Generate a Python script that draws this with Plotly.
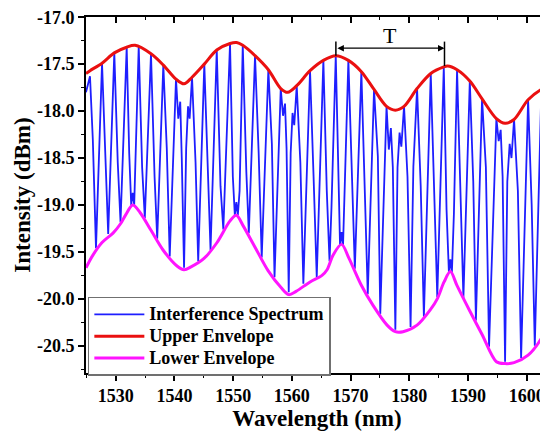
import plotly.graph_objects as go

# ---------------- data ----------------
spec_nm = [
    1524.94, 1525.62, 1526.10, 1526.64, 1527.67, 1528.25, 1528.72, 1529.76, 1530.35, 1530.82,
    1531.87, 1532.30, 1532.64, 1532.90, 1533.15, 1533.92, 1534.50, 1534.96, 1536.01, 1536.62,
    1537.07, 1538.11, 1538.70, 1539.20, 1540.27, 1540.66, 1540.99, 1541.25, 1541.64, 1542.00,
    1542.32, 1542.59, 1543.00, 1543.60, 1544.05, 1545.09, 1545.70, 1546.15, 1547.21, 1547.85,
    1548.33, 1549.47, 1549.95, 1550.29, 1550.55, 1550.80, 1551.10, 1551.64, 1552.25, 1552.67,
    1553.73, 1554.35, 1554.87, 1556.00, 1556.60, 1557.05, 1558.11, 1558.50, 1558.84, 1559.10,
    1559.47, 1559.80, 1560.12, 1560.41, 1560.83, 1561.45, 1561.96, 1563.10, 1563.70, 1564.24,
    1565.37, 1565.95, 1566.42, 1566.75, 1567.48, 1567.95, 1568.21, 1568.47, 1568.72, 1569.63,
    1570.35, 1570.73, 1571.84, 1572.35, 1572.93, 1574.00, 1574.65, 1575.06, 1576.13, 1576.52,
    1576.87, 1577.20, 1577.63, 1578.00, 1578.35, 1578.65, 1579.11, 1579.70, 1580.22, 1580.70,
    1581.33, 1581.95, 1582.49, 1583.66, 1584.30, 1584.77, 1585.88, 1586.35, 1586.75, 1587.00,
    1587.26, 1587.60, 1588.14, 1588.75, 1589.22, 1590.31, 1590.90, 1591.35, 1592.40, 1593.05,
    1593.59, 1594.84, 1595.23, 1595.57, 1595.90, 1596.32, 1596.70, 1597.10, 1597.41, 1597.85,
    1598.50, 1599.05, 1600.24, 1600.85, 1601.38, 1602.50, 1603.05, 1603.56,
]
spec_dbm = [
    -17.80, -17.63, -18.30, -19.46, -17.49, -18.60, -19.31, -17.38, -18.55, -19.18,
    -17.32, -18.45, -19.00, -18.87, -19.00, -17.31, -18.60, -19.14, -17.39, -18.70,
    -19.36, -17.51, -18.40, -19.55, -17.66, -18.08, -17.90, -18.50, -19.67, -18.40,
    -17.95, -18.08, -17.64, -18.55, -19.60, -17.50, -18.75, -19.48, -17.35, -18.80,
    -19.26, -17.28, -18.70, -19.11, -18.97, -19.11, -18.85, -17.30, -18.65, -19.30,
    -17.41, -18.45, -19.56, -17.56, -18.35, -19.77, -17.76, -18.05, -17.92, -18.40,
    -19.93, -18.45, -18.02, -18.15, -17.73, -18.55, -19.84, -17.57, -18.70, -19.77,
    -17.46, -18.85, -19.60, -19.03, -17.41, -18.90, -19.43, -19.29, -19.43, -17.46,
    -19.07, -19.68, -17.58, -18.64, -19.95, -17.77, -18.48, -20.16, -17.95, -18.41,
    -18.18, -18.60, -20.33, -18.60, -18.23, -18.38, -17.95, -18.70, -20.30, -18.59,
    -17.76, -18.80, -20.19, -17.60, -18.95, -19.98, -17.53, -19.05, -19.72, -19.58,
    -19.72, -19.10, -17.56, -18.95, -19.99, -17.68, -18.75, -20.23, -17.87, -18.60,
    -20.51, -18.08, -18.32, -18.20, -18.70, -20.67, -18.75, -18.35, -18.50, -18.09,
    -18.85, -20.63, -17.88, -19.00, -20.50, -17.77, -18.90, -20.25,
]

upper_nm = [
    1524.94, 1525.62, 1527.67, 1529.76, 1531.87, 1533.30, 1536.01, 1538.11, 1540.27, 1541.64,
    1543.00, 1545.09, 1547.21, 1549.47, 1550.60, 1551.64, 1553.73, 1556.00, 1558.11, 1559.30,
    1560.83, 1563.10, 1565.37, 1567.48, 1569.63, 1571.84, 1574.00, 1576.13, 1577.63, 1579.11,
    1581.33, 1583.66, 1585.88, 1586.50, 1588.14, 1590.31, 1592.40, 1594.84, 1596.32, 1597.85,
    1600.24, 1602.50, 1603.63,
]
upper_dbm = [
    -17.60, -17.57, -17.49, -17.38, -17.32, -17.30, -17.39, -17.51, -17.66, -17.71,
    -17.64, -17.50, -17.35, -17.28, -17.27, -17.30, -17.41, -17.56, -17.76, -17.80,
    -17.73, -17.57, -17.46, -17.41, -17.46, -17.58, -17.77, -17.95, -17.99, -17.95,
    -17.76, -17.60, -17.53, -17.52, -17.56, -17.68, -17.87, -18.08, -18.13, -18.09,
    -17.88, -17.77, -17.74,
]

lower_nm = [
    1524.94, 1525.96, 1527.67, 1529.54, 1530.82, 1531.75, 1532.90, 1534.14, 1536.01, 1538.06,
    1540.44, 1541.64, 1542.83, 1545.04, 1547.26, 1549.47, 1550.55, 1551.69, 1553.73, 1555.95,
    1558.16, 1559.47, 1560.72, 1563.10, 1565.14, 1566.00, 1567.06, 1568.47, 1569.74, 1571.79,
    1573.83, 1576.22, 1577.63, 1578.94, 1581.33, 1583.66, 1584.77, 1585.93, 1587.00, 1588.14,
    1590.31, 1592.40, 1594.84, 1596.32, 1597.85, 1600.24, 1602.50, 1603.63,
]
lower_dbm = [
    -19.67, -19.55, -19.40, -19.30, -19.20, -19.10, -19.00, -19.08, -19.27, -19.48,
    -19.65, -19.69, -19.66, -19.57, -19.40, -19.17, -19.11, -19.22, -19.45, -19.70,
    -19.88, -19.955, -19.92, -19.82, -19.75, -19.69, -19.53, -19.42, -19.57, -19.85,
    -20.07, -20.28, -20.35, -20.35, -20.28, -20.11, -20.00, -19.82, -19.71, -19.86,
    -20.13, -20.38, -20.67, -20.69, -20.68, -20.60, -20.42, -20.26,
]

series_names = ["Interference Spectrum", "Upper Envelope", "Lower Envelope"]

x_ticks = [1530, 1540, 1550, 1560, 1570, 1580, 1590, 1600]
x_tick_labels = ["1530", "1540", "1550", "1560", "1570", "1580", "1590", "1600"]
y_ticks = [-20.5, -20.0, -19.5, -19.0, -18.5, -18.0, -17.5, -17.0]
y_tick_labels = ["-20.5", "-20.0", "-19.5", "-19.0", "-18.5", "-18.0", "-17.5", "-17.0"]

x_range = [1524.94, 1603.63]
y_range = [-20.79, -16.998]

period_nm = [1567.5, 1586.0]          # envelope peaks marked by "T"
period_peak_dbm = [-17.41, -17.52]
period_arrow_dbm = -17.33
period_bar_top_dbm = -17.26
period_label = "T"
period_label_dbm = -17.19

# ---------------- figure ----------------
SERIF = "Liberation Serif, Times New Roman, serif"
BLACK = "#000000"


def legend_name(s):
    # legend rows are sized from legend.font (14.5px); the label itself is 18px
    return "<span style='font-size:18px'>" + s + "</span>"


fig = go.Figure()
fig.add_trace(go.Scatter(
    x=spec_nm, y=spec_dbm, mode="lines", name=legend_name(series_names[0]),
    line=dict(color="#1e1eff", width=1.8),
))
fig.add_trace(go.Scatter(
    x=upper_nm, y=upper_dbm, mode="lines", name=legend_name(series_names[1]),
    line=dict(color="#ea1010", width=3, shape="spline", smoothing=0.9),
))
fig.add_trace(go.Scatter(
    x=lower_nm, y=lower_dbm, mode="lines", name=legend_name(series_names[2]),
    line=dict(color="#ff14ff", width=3, shape="spline", smoothing=0.9),
))
# invisible trace so that the top (inward-tick) axis is drawn
fig.add_trace(go.Scatter(
    x=[x_ticks[0]], y=[y_ticks[0]], xaxis="x2", yaxis="y", mode="markers",
    marker=dict(opacity=0), showlegend=False, hoverinfo="skip",
))

tickfont = dict(family=SERIF, size=18, color=BLACK, weight="bold")

# the page body sits 8px in from the window corner, so the figure is 8px smaller
fig.update_layout(
    width=540, height=427,
    margin=dict(l=78, r=0, t=9, b=62, autoexpand=False),
    paper_bgcolor="white", plot_bgcolor="white",
    showlegend=True,
    legend=dict(
        x=0.004, y=0.2135, xanchor="left", yanchor="top",
        font=dict(family=SERIF, size=14.5, color=BLACK, weight="bold"),
        bgcolor="white", bordercolor="#707070", borderwidth=1.5,
        itemwidth=50, tracegroupgap=0,
    ),
    xaxis=dict(
        range=x_range, automargin=False, ticklabeloverflow="allow",
        tickmode="array", tickvals=x_ticks, ticktext=x_tick_labels,
        ticks="outside", ticklen=6, tickwidth=1.5, tickcolor=BLACK,
        showline=True, linecolor=BLACK, linewidth=1.6,
        showgrid=False, zeroline=False, tickfont=tickfont,
        minor=dict(tickmode="linear", tick0=1525, dtick=5, ticks="outside",
                   ticklen=3.5, tickwidth=1.2, tickcolor=BLACK, showgrid=False),
        title=dict(text="<b>Wavelength (nm)</b>",
                   font=dict(family=SERIF, size=23, color=BLACK), standoff=4),
    ),
    xaxis2=dict(
        range=x_range, overlaying="x", side="top", anchor="y", automargin=False,
        tickmode="array", tickvals=x_ticks, showticklabels=False,
        ticks="inside", ticklen=6, tickwidth=1.5, tickcolor=BLACK,
        showline=True, linecolor=BLACK, linewidth=1.6,
        showgrid=False, zeroline=False,
        minor=dict(tickmode="linear", tick0=1525, dtick=5, ticks="inside",
                   ticklen=3.5, tickwidth=1.2, tickcolor=BLACK, showgrid=False),
    ),
    yaxis=dict(
        range=y_range, automargin=False, ticklabeloverflow="allow",
        tickmode="array", tickvals=y_ticks, ticktext=y_tick_labels,
        ticks="outside", ticklen=6, tickwidth=1.5, tickcolor=BLACK,
        showline=True, linecolor=BLACK, linewidth=1.6,
        showgrid=False, zeroline=False, tickfont=tickfont,
        minor=dict(tickmode="linear", tick0=-17.0, dtick=0.25, ticks="outside",
                   ticklen=3.5, tickwidth=1.2, tickcolor=BLACK, showgrid=False),
        title=dict(text="<b>Intensity (dBm)</b>",
                   font=dict(family=SERIF, size=23, color=BLACK), standoff=0),
    ),
)

# period marker "T"
for xv, yp in zip(period_nm, period_peak_dbm):
    fig.add_shape(type="line", xref="x", yref="y", x0=xv, x1=xv,
                  y0=period_bar_top_dbm, y1=yp, line=dict(color=BLACK, width=1.5))
fig.add_annotation(
    x=period_nm[1], y=period_arrow_dbm, ax=period_nm[0], ay=period_arrow_dbm,
    xref="x", yref="y", axref="x", ayref="y", text="", showarrow=True,
    arrowhead=2, arrowside="end+start", arrowsize=1, arrowwidth=1.3,
    arrowcolor=BLACK, standoff=0, startstandoff=0,
)
fig.add_annotation(
    x=(period_nm[0] + period_nm[1]) / 2, y=period_label_dbm, xref="x", yref="y",
    text=period_label, showarrow=False,
    font=dict(family=SERIF, size=22, color=BLACK),
)

fig.write_html("out.html")
